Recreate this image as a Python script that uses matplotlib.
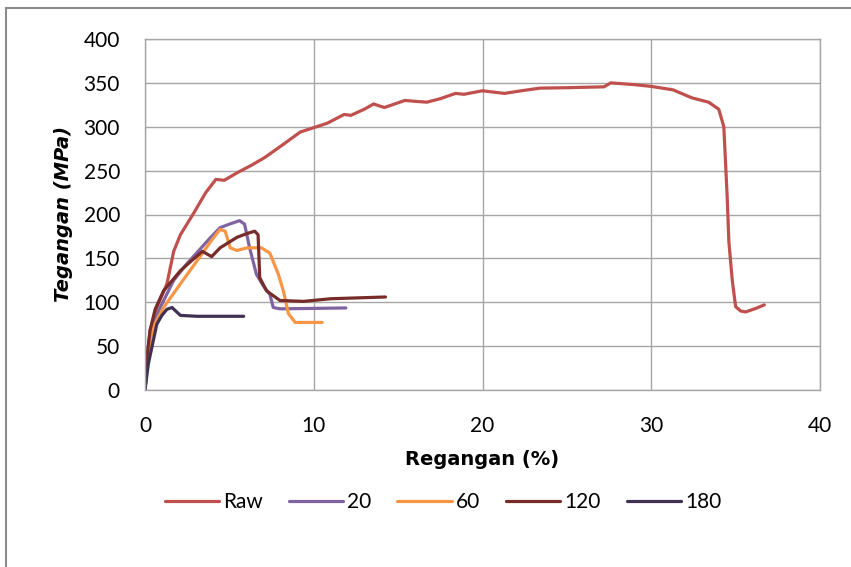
import matplotlib
matplotlib.use("Agg")
import matplotlib.pyplot as plt
from matplotlib.lines import Line2D
from matplotlib import font_manager

names = {f.name for f in font_manager.fontManager.ttflist}
fam = [f for f in ["Lato", "Liberation Sans", "DejaVu Sans"] if f in names]
plt.rcParams['font.family'] = fam

# ---- data ----
raw_x = [0, 0.1, 0.3, 0.7, 1.3, 1.7, 2.1, 2.9, 3.6, 4.2, 4.7, 5.5, 6.3, 7.1, 8.2, 9.2, 10.0,
         10.8, 11.8, 12.2, 13.0, 13.55, 14.0, 14.2, 15.4, 16.0, 16.7, 17.5, 18.4, 18.9, 20.0,
         21.3, 22.3, 23.4, 25.0, 27.2, 27.6, 29.0, 30.0, 31.3, 32.4, 33.4, 34.0, 34.3, 34.5,
         34.6, 34.8, 35.0, 35.3, 35.6, 36.2, 36.7]
raw_y = [0, 30, 68, 94, 121, 158, 177, 202, 225, 240, 239, 248, 256, 265, 280, 294, 299,
         304, 314, 313, 320, 326, 323, 322, 330, 329, 328, 332, 338, 337, 341,
         338, 341, 344, 344.5, 345.5, 350, 348, 346, 342, 333, 328, 320, 300, 220,
         169, 125, 95, 90, 89, 93, 97]

s20_x = [0, 0.2, 0.5, 0.9, 1.7, 2.4, 3.1, 3.8, 4.45, 5.0, 5.6, 5.9, 6.2, 6.6, 7.0, 7.4, 7.6, 8.0, 10.0, 11.9]
s20_y = [0, 50, 75, 94, 125, 142, 157, 172, 185, 189, 193, 189, 162, 132, 119, 109, 94, 92.5, 93, 93.5]

s60_x = [0, 0.2, 0.5, 1.1, 2.1, 3.3, 4.0, 4.45, 4.75, 5.05, 5.45, 6.04, 6.9, 7.4, 7.9, 8.2, 8.5, 8.9, 10.5]
s60_y = [0, 45, 72, 94, 121, 153, 172, 183, 181, 162, 159, 162, 162, 156, 132, 113, 87, 77, 77]

s120_x = [0, 0.1, 0.3, 0.6, 1.1, 2.1, 2.8, 3.4, 3.95, 4.45, 5.45, 6.0, 6.5, 6.7, 6.8, 7.2, 8.0, 9.4, 11.0, 14.25]
s120_y = [0, 35, 68, 92, 113, 136, 148, 158, 152, 162, 174, 178, 181, 177, 128, 113, 102, 101, 104, 106]

s180_x = [0, 0.2, 0.7, 1.0, 1.3, 1.6, 2.1, 3.1, 5.85]
s180_y = [0, 30, 75, 85, 92, 94, 85, 84, 84]

series = [("Raw", raw_x, raw_y, "#C0504D"),
          ("20", s20_x, s20_y, "#8064A2"),
          ("60", s60_x, s60_y, "#F79646"),
          ("120", s120_x, s120_y, "#772C2A"),
          ("180", s180_x, s180_y, "#403152")]

x_ticks = [0, 10, 20, 30, 40]
y_ticks = [0, 50, 100, 150, 200, 250, 300, 350, 400]

W, H = 851, 567
fig = plt.figure(figsize=(W / 100, H / 100), dpi=100)
ax = fig.add_axes([145 / W, 1 - 390 / H, 675 / W, 351 / H])

for name, xs, ys, c in series:
    ax.plot(xs, ys, color=c, lw=2.3, label=name, solid_joinstyle='round', solid_capstyle='round')

ax.set_xlim(0, 40)
ax.set_ylim(0, 400)
ax.set_xticks(x_ticks)
ax.set_yticks(y_ticks)
ax.grid(True, color="#A6A6A6", lw=1.0)
ax.set_axisbelow(True)
for sp in ax.spines.values():
    sp.set_color("#A6A6A6")
    sp.set_linewidth(1.0)
ax.tick_params(length=0, labelsize=15, colors="#000000")
ax.tick_params(axis='y', pad=18)
ax.tick_params(axis='x', pad=19)

lab_font = ["DejaVu Sans"]
ax.set_xlabel("Regangan (%)", fontsize=14, fontweight='bold', family=lab_font, labelpad=10)
ax.set_ylabel("Tegangan (MPa)", fontsize=14, fontweight='bold', fontstyle='italic',
              family=lab_font, labelpad=8)

leg = fig.legend(loc='center', bbox_to_anchor=(443 / W, 1 - 502 / H), ncol=5, frameon=False,
                 fontsize=15, handlelength=2.6, handletextpad=0.2, columnspacing=1.25)

# outer chart border (top and left visible)
fig.add_artist(Line2D([6 / W, 1], [1 - 8 / H, 1 - 8 / H], color="#8C8C8C", lw=1.5, transform=fig.transFigure))
fig.add_artist(Line2D([6 / W, 6 / W], [0, 1 - 8 / H], color="#8C8C8C", lw=1.5, transform=fig.transFigure))

fig.savefig("out.png", dpi=100)
